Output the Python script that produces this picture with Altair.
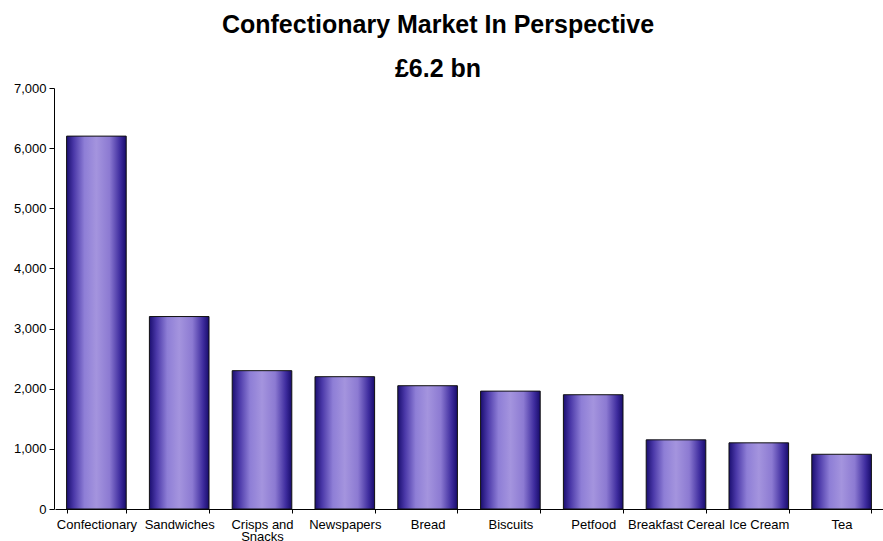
import altair as alt
import pandas as pd

categories = ["Confectionary", "Sandwiches", "Crisps and Snacks", "Newspapers", "Bread",
              "Biscuits", "Petfood", "Breakfast Cereal", "Ice Cream", "Tea"]
values = [6200, 3200, 2300, 2200, 2050, 1960, 1900, 1150, 1100, 910]

df = pd.DataFrame({"category": categories, "value": values})

grad = alt.Gradient(
    gradient="linear", x1=0, x2=1, y1=0, y2=0,
    stops=[
        alt.GradientStop(offset=0.0, color="#1a0e70"),
        alt.GradientStop(offset=0.12, color="#4a38a8"),
        alt.GradientStop(offset=0.3, color="#8e7ed6"),
        alt.GradientStop(offset=0.5, color="#a494de"),
        alt.GradientStop(offset=0.72, color="#8c7ad2"),
        alt.GradientStop(offset=0.9, color="#3e2c9e"),
        alt.GradientStop(offset=1.0, color="#180c6c"),
    ],
)

font = "Liberation Sans"

chart = alt.Chart(df).mark_bar(
    color=grad, stroke="#111111", strokeWidth=1
).encode(
    x=alt.X("category:N", sort=categories, title=None,
            scale=alt.Scale(paddingInner=0.28, paddingOuter=0.14),
            axis=alt.Axis(labelAngle=0, labelFontSize=13, labelFont=font, labelColor="#000000",
                          domainColor="#000000", tickColor="#000000", tickBand="extent",
                          labelExpr="datum.value == 'Crisps and Snacks' ? ['Crisps and', 'Snacks'] : datum.value",
                          labelLineHeight=12, labelPadding=5, ticks=True, tickSize=4,
                          labelOverlap=False)),
    y=alt.Y("value:Q", title=None,
            scale=alt.Scale(domain=[0, 7000], nice=False),
            axis=alt.Axis(values=[0, 1000, 2000, 3000, 4000, 5000, 6000, 7000], format=",.0f",
                          labelFontSize=13, labelFont=font, labelColor="#000000",
                          domainColor="#000000", tickColor="#000000", tickSize=5,
                          labelPadding=3, offset=1, grid=False)),
).properties(
    width=828, height=421,
    title=alt.TitleParams(
        "Confectionary Market In Perspective",
        subtitle="£6.2 bn",
        font=font, fontSize=25, fontWeight="bold", color="#000000",
        subtitleFont=font, subtitleFontSize=25, subtitleFontWeight="bold", subtitleColor="#000000",
        subtitlePadding=19, anchor="middle", dx=-31, frame="group", offset=0,
    ),
    padding={"left": 55, "top": 88, "right": 0, "bottom": 32},
    autosize=alt.AutoSizeParams(type="none"),
    background="#ffffff",
).configure_view(stroke=None)

chart.save("out.html", embed_options={"renderer": "svg", "actions": False})
